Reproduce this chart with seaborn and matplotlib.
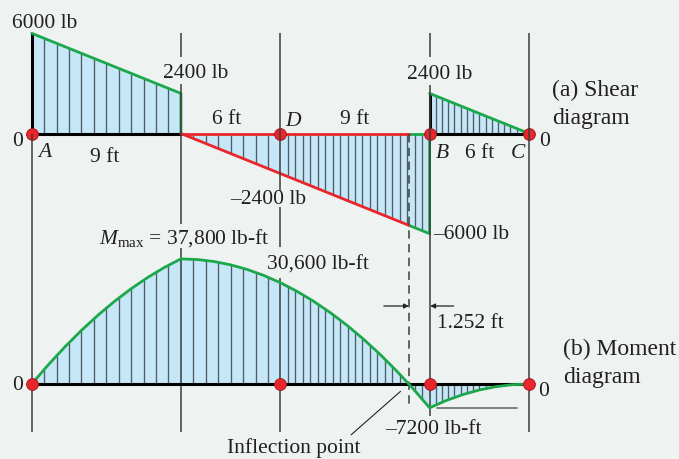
import numpy as np
import matplotlib
matplotlib.use("Agg")
import matplotlib.pyplot as plt
import seaborn as sns

# ---------------------------------------------------------------- data
# beam stations along the span (ft)
station_x = [0, 15, 24, 30]          # points marked with dots
guide_x = [0, 9, 15, 24, 30]          # vertical reference lines

# shear force V (lb), piecewise linear between break points
shear_x = [0, 9, 9, 24, 24, 30]
shear_v = [6000, 2400, 0, -6000, 2400, 0]

# bending moment M (lb-ft) at each foot along the beam
moment_x = list(range(31))
moment_m = [0, 5800, 11200, 16200, 20800, 25000, 28800, 32200, 35200, 37800,
            37600, 37000, 36000, 34600, 32800, 30600, 28000, 25000, 21600, 17800,
            13600, 9000, 4000, -1400, -7200, -5000, -3200, -1800, -800, -200, 0]

inflection_offset = 1.252            # ft, measured to the left of B
x_B = 24
x_inflection = x_B - inflection_offset

# ---------------------------------------------------------------- style
BG = "#eef3f2"
FILL = "#c6e7f7"
GREEN = "#1ca84a"
RED = "#e8262b"
GUIDE = "#3c3c3c"
HATCH = "#505b66"
TXT = "#231f20"

sns.set_theme(style="white", rc={"axes.facecolor": BG, "figure.facecolor": BG})
plt.rcParams["font.family"] = ["Liberation Serif", "DejaVu Serif"]
plt.rcParams["mathtext.fontset"] = "custom"
plt.rcParams["mathtext.rm"] = "Liberation Serif"
plt.rcParams["mathtext.it"] = "Liberation Serif:italic"
FS = 15.5
FS_TITLE = 17

W, H = 679, 459
fig = plt.figure(figsize=(W / 100, H / 100), dpi=100)

# horizontal scale: pixels per foot, and shared x limits
X0, FT = 31.7, 16.58
xlim = (-X0 / FT, (W - X0) / FT)

# shear axes and moment axes overlay the whole figure with their own y scales
V0, VS = 133.5, 0.0167
M0, MS = 384.0, 0.00331
ax_v = fig.add_axes([0, 0, 1, 1])
ax_m = fig.add_axes([0, 0, 1, 1])
ax_v.set_xlim(*xlim)
ax_m.set_xlim(*xlim)
ax_v.set_ylim((V0 - H) / VS, V0 / VS)
ax_m.set_ylim((M0 - H) / MS, M0 / MS)
ax_m.patch.set_alpha(0)
for a in (ax_v, ax_m):
    a.set_axis_off()


def yfrac(py):
    return 1 - py / H


def shear_at(x):
    x = np.asarray(x, dtype=float)
    left = np.interp(x, shear_x[0:2], shear_v[0:2])
    mid = np.interp(x, shear_x[2:4], shear_v[2:4])
    right = np.interp(x, shear_x[4:6], shear_v[4:6])
    return np.where(x <= 9, left, np.where(x <= 24, mid, right))


# hatch positions (decorative vertical lines inside the filled areas)
hatch = np.concatenate([
    np.arange(0.75, 15, 0.75),
    15 + 0.45 * np.arange(1, 20),
    24 + 0.375 * np.arange(1, 16),
])
hatch = hatch[~np.isin(np.round(hatch, 3), guide_x)]

# ---------------------------------------------------------------- shear diagram
ax_v.fill_between(shear_x, shear_v, 0, color=FILL, lw=0, zorder=1)
ax_v.vlines(hatch, 0, shear_at(hatch), color=HATCH, lw=0.95, zorder=2)

v_infl = float(shear_at(x_inflection))
lw_main = 2.0
# black verticals and zero line
ax_v.plot([shear_x[0], shear_x[0]], [0, shear_v[0]], color="black", lw=2.2, zorder=4, solid_capstyle="butt")
ax_v.plot([shear_x[4], shear_x[4]], [0, shear_v[4]], color="black", lw=2.2, zorder=4, solid_capstyle="butt")
ax_v.plot([0, 9], [0, 0], color="black", lw=2.2, zorder=4)
ax_v.plot([24, 30], [0, 0], color="black", lw=2.2, zorder=4)
# green segments
sns.lineplot(x=shear_x[0:3], y=shear_v[0:3], ax=ax_v, color=GREEN, lw=lw_main,
             sort=False, estimator=None, zorder=5, legend=False)
sns.lineplot(x=shear_x[4:6], y=shear_v[4:6], ax=ax_v, color=GREEN, lw=lw_main,
             sort=False, estimator=None, zorder=5, legend=False)
sns.lineplot(x=[x_inflection, shear_x[3], shear_x[3]], y=[v_infl, shear_v[3], 0], ax=ax_v,
             color=GREEN, lw=lw_main, sort=False, estimator=None, zorder=5, legend=False)
ax_v.plot([x_inflection, 24], [0, 0], color=GREEN, lw=lw_main, zorder=5)
# red segment up to the inflection section
ax_v.plot([shear_x[2], x_inflection], [shear_v[2], v_infl], color=RED, lw=lw_main, zorder=5)
ax_v.plot([shear_x[2], x_inflection], [0, 0], color=RED, lw=lw_main, zorder=5)

# ---------------------------------------------------------------- moment diagram
ax_m.fill_between(moment_x, moment_m, 0, color=FILL, lw=0, zorder=1)
ax_m.vlines(hatch, 0, np.interp(hatch, moment_x, moment_m), color=HATCH, lw=0.95, zorder=2)
ax_m.plot([0, 30], [0, 0], color="black", lw=2.2, zorder=4)
sns.lineplot(x=moment_x, y=moment_m, ax=ax_m, color=GREEN, lw=lw_main,
             sort=False, estimator=None, zorder=5, legend=False)
m_min = min(moment_m)
ax_m.plot([24.45, 29.3], [m_min, m_min], color="#6b6b6b", lw=1.2, zorder=3)

# ---------------------------------------------------------------- guides
# pixel spans of each guide, interrupted where labels sit on them
guide_spans = {
    0: [(133.5, 432)],
    9: [(33, 57), (84, 224), (248, 432)],
    15: [(33, 191), (207, 247), (278, 432)],
    24: [(33, 57), (85, 416)],
    30: [(33, 432)],
}
tr = ax_m.get_xaxis_transform()
for gx in guide_x:
    for top, bot in guide_spans[gx]:
        ax_m.plot([gx, gx], [yfrac(top), yfrac(bot)], transform=tr,
                  color=GUIDE, lw=1.1, zorder=3, solid_capstyle="butt")
ax_m.plot([x_inflection, x_inflection], [yfrac(133.5), yfrac(408)], transform=tr,
          color=GUIDE, lw=1.1, ls=(0, (5.5, 3.5)), zorder=3)

# station dots
dot = dict(marker="o", ms=8.5, color=RED, mec="#a01015", mew=0.6, ls="none", zorder=6)
ax_v.plot(station_x, [0] * len(station_x), **dot)
ax_m.plot(station_x, [0] * len(station_x), **dot)

# ---------------------------------------------------------------- text
def label(px, py, s, ha="left", style="normal", size=FS):
    fig.text(px / W, yfrac(py), s, ha=ha, va="baseline", fontsize=size,
             color=TXT, style=style, zorder=10)


def num(v):
    return f"{'\u2013' if v < 0 else ''}{abs(v):.0f}"


label(12, 28, f"{shear_v[0]:.0f} lb")
label(163, 78, f"{shear_v[1]:.0f} lb")
label(407, 79, f"{shear_v[4]:.0f} lb")
label(12, 146, "0")
label(539, 146.5, "0")
label(38, 157, "A", style="italic")
label(90.5, 162.5, "9 ft")
label(212.5, 124, "6 ft")
label(285, 125.5, "D", style="italic")
label(340, 124, "9 ft")
label(436, 158, "B", style="italic")
label(465, 158, "6 ft")
label(511, 158, "C", style="italic")
label(230, 204, f"{num(float(shear_at(15)))} lb")
label(433, 239, f"{num(shear_v[3])} lb")
label(552, 96, "(a) Shear", size=FS_TITLE)
label(552, 124, "diagram", size=FS_TITLE)

label(99, 243.5, r"$M_{\mathrm{max}}$ = " + f"{max(moment_m):,} lb-ft")
label(267, 270, f"{moment_m[15]:,} lb-ft")
label(436.5, 327.5, f"{inflection_offset} ft")
label(12, 390, "0")
label(538, 396, "0")
label(385, 433.5, f"{num(m_min)} lb-ft")
label(563, 355, "(b) Moment", size=FS_TITLE)
label(563, 382.5, "diagram", size=FS_TITLE)

# dimension arrows for the inflection distance
arrow = dict(arrowstyle="-|>", mutation_scale=7, lw=0.9, color="#222222", shrinkA=0, shrinkB=0)
ya = yfrac(306)
ax_m.annotate("", xy=(x_inflection, ya), xycoords=tr,
              xytext=(x_inflection - 25 / FT, ya), textcoords=tr, arrowprops=arrow)
ax_m.annotate("", xy=(x_B + 0.6 / FT, ya), xycoords=tr,
              xytext=(x_B + 24 / FT, ya), textcoords=tr, arrowprops=arrow)

# inflection point call-out
ax_m.annotate("Inflection point", xy=(x_inflection, 0), xycoords="data",
              xytext=(294 / W, yfrac(453)), textcoords="figure fraction",
              ha="center", va="baseline", fontsize=FS, color=TXT,
              arrowprops=dict(arrowstyle="-", lw=0.8, color="#222222",
                              shrinkA=0, shrinkB=8, relpos=(0.9, 1.0)))

fig.savefig("out.png", dpi=100, facecolor=BG)
